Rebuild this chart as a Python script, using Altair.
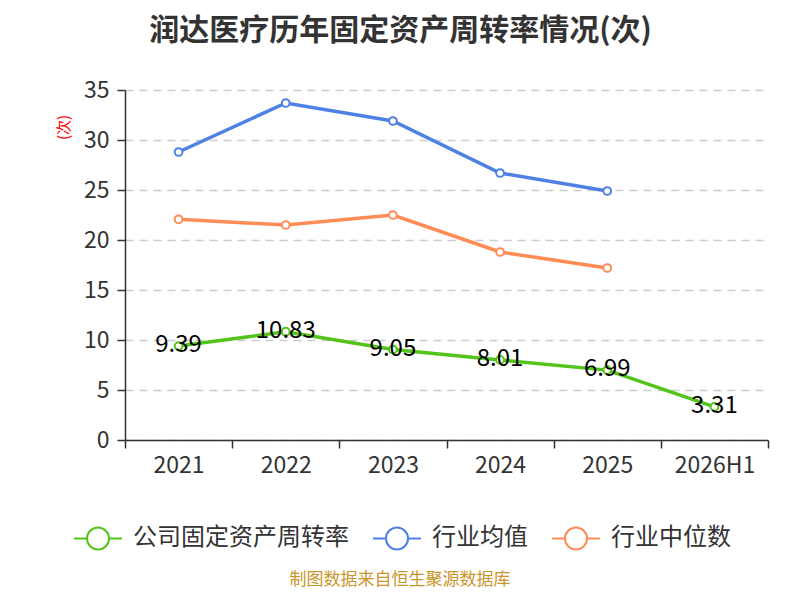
import altair as alt
import pandas as pd

categories = ["2021", "2022", "2023", "2024", "2025", "2026H1"]
company = [9.39, 10.83, 9.05, 8.01, 6.99, 3.31]
industry_avg = [28.8, 33.7, 31.9, 26.7, 24.9]
industry_median = [22.07, 21.5, 22.5, 18.8, 17.2]
series_names = ["公司固定资产周转率", "行业均值", "行业中位数"]
colors = ["#52c41a", "#4e80e6", "#ff8c55"]

rows = []
for c, v in zip(categories, company):
    rows.append({"year": c, "value": v, "series": series_names[0]})
for c, v in zip(categories, industry_avg):
    rows.append({"year": c, "value": v, "series": series_names[1]})
for c, v in zip(categories, industry_median):
    rows.append({"year": c, "value": v, "series": series_names[2]})
df = pd.DataFrame(rows)
df_company = df[df["series"] == series_names[0]].copy()
df_company["label"] = df_company["value"].map(lambda v: f"{v:.2f}")

FONT = "Noto Sans CJK SC"

x_enc = alt.X("year:N", sort=categories, title=None,
              scale=alt.Scale(paddingInner=0, paddingOuter=0),
              axis=alt.Axis(labelAngle=0, labelFontSize=23, labelColor="#333333",
                            labelFont=FONT, domainColor="#333333", domainWidth=1.5,
                            tickColor="#333333", tickSize=8, tickWidth=1.5,
                            tickBand="extent", labelPadding=6, grid=False))
y_enc = alt.Y("value:Q", title="(次)",
              scale=alt.Scale(domain=[0, 35], nice=False),
              axis=alt.Axis(values=[0, 5, 10, 15, 20, 25, 30, 35],
                            labelFontSize=23, labelColor="#333333", labelFont=FONT,
                            domainColor="#333333", domainWidth=1.5,
                            tickColor="#333333", tickSize=8, tickWidth=1.5,
                            labelPadding=8,
                            grid=True, gridDash=[8, 6], gridColor="#cccccc", gridWidth=1.5,
                            titleColor="red", titleFontSize=15, titleFontWeight="normal",
                            titleFont=FONT, titleX=-62, titleY=37,
                            titleAlign="center", titleBaseline="middle"))

color_enc = alt.Color("series:N",
                      scale=alt.Scale(domain=series_names, range=colors),
                      legend=alt.Legend(
                          title=None, orient="none", direction="horizontal",
                          legendX=-52, legendY=423,
                          symbolType="M-1,0L-0.46,0M0.46,0L1,0M0.46,0A0.46,0.46,0,1,1,-0.46,0A0.46,0.46,0,1,1,0.46,0",
                          symbolSize=2300, symbolStrokeWidth=2, symbolFillColor="white",
                          labelFontSize=24, labelColor="#333333", labelFont=FONT,
                          labelLimit=0, labelOffset=10, columnPadding=20))

lines = alt.Chart(df).mark_line(
    strokeWidth=3.5,
    point=alt.OverlayMarkDef(filled=False, fill="white", fillOpacity=1, opacity=1,
                             size=60, strokeWidth=2)
).encode(
    x=x_enc, y=y_enc, color=color_enc,
)

labels = alt.Chart(df_company).mark_text(
    fontSize=24, color="#000000", font=FONT, baseline="middle", align="center", dy=-1
).encode(
    x=alt.X("year:N", sort=categories),
    y=alt.Y("value:Q"),
    text="label:N",
)

source = alt.Chart(pd.DataFrame({"t": ["制图数据来自恒生聚源数据库"]})).mark_text(
    fontSize=17, color="#c9962a", font=FONT, align="center", baseline="middle"
).encode(text="t:N", x=alt.value(275), y=alt.value(490))

chart = alt.layer(lines, labels, source).properties(
    width=643, height=350,
    autosize=alt.AutoSizeParams(type="none"),
    padding={"left": 117, "top": 82, "right": 24, "bottom": 152},
    title=alt.TitleParams("润达医疗历年固定资产周转率情况(次)", fontSize=30, fontWeight="bold",
                          color="#333333", font=FONT, anchor="middle", dx=-46, offset=33),
).configure_view(stroke=None)

chart.save("out.html", embed_options={"renderer": "svg", "actions": False})
